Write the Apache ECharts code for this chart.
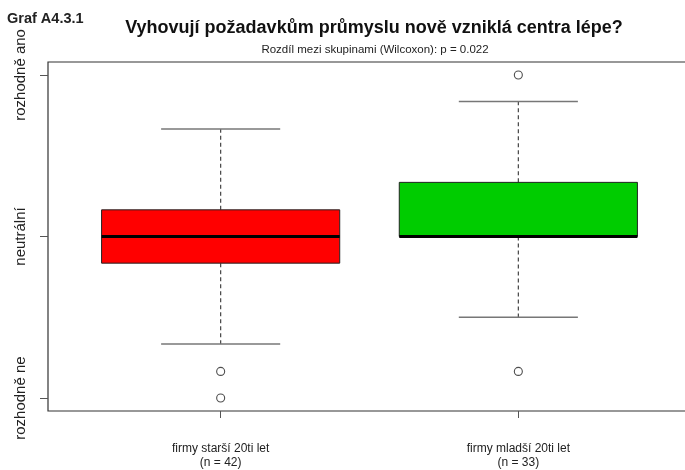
<!DOCTYPE html>
<html>
<head>
<meta charset="utf-8">
<script src="https://cdn.jsdelivr.net/npm/echarts@6/dist/echarts.min.js"></script>
<style>
  html, body { margin: 0; padding: 0; background: #fff; }
  #chart { width: 685px; height: 470px; }
</style>
</head>
<body>
<div id="chart"></div>
<script>
// Groups and their sample sizes
const groups = ['firmy starší 20ti let', 'firmy mladší 20ti let'];
const groupSizes = [42, 33];

// Five-number summaries: [lower whisker, Q1, median, Q3, upper whisker]
const summaries = [
  [1.67, 2.67, 3, 3.33, 4.33],
  [2, 3, 3, 3.67, 4.67]
];

// Outlying answers for each group
const outliers = [
  [1.33, 1],
  [5, 1.33]
];

// Answer scale
const scaleValues = [1, 3, 5];
const scaleLabels = ['rozhodně ne', 'neutrální', 'rozhodně ano'];

const boxColors = ['#ff0000', '#00cc00'];

const boxData = summaries.map((s, i) => [i + 1].concat(s));
const outlierData = [];
outliers.forEach((list, i) => list.forEach(v => outlierData.push([i + 1, v])));

const FONT = '"Liberation Sans", Arial, Helvetica, sans-serif';

function renderBox(params, api) {
  const x = api.value(0);
  const lo = api.value(1), q1 = api.value(2), med = api.value(3), q3 = api.value(4), hi = api.value(5);
  const boxHalf = api.size([0.4, 0])[0];
  const capHalf = api.size([0.2, 0])[0];
  const c = api.coord([x, med]);
  const cx = c[0];
  const yLo = api.coord([x, lo])[1];
  const yQ1 = api.coord([x, q1])[1];
  const yMed = c[1];
  const yQ3 = api.coord([x, q3])[1];
  const yHi = api.coord([x, hi])[1];
  const color = boxColors[params.dataIndex];
  const whisker = { stroke: '#444', lineWidth: 1.2, lineDash: [4, 3] };
  const cap = { stroke: '#777', lineWidth: 1.5 };
  return {
    type: 'group',
    children: [
      { type: 'line', shape: { x1: cx, y1: yQ3, x2: cx, y2: yHi }, style: whisker },
      { type: 'line', shape: { x1: cx, y1: yQ1, x2: cx, y2: yLo }, style: whisker },
      { type: 'line', shape: { x1: cx - capHalf, y1: yHi, x2: cx + capHalf, y2: yHi }, style: cap },
      { type: 'line', shape: { x1: cx - capHalf, y1: yLo, x2: cx + capHalf, y2: yLo }, style: cap },
      { type: 'rect', shape: { x: cx - boxHalf, y: yQ3, width: boxHalf * 2, height: yQ1 - yQ3 },
        style: { fill: color, stroke: '#222', lineWidth: 1 } },
      { type: 'line', shape: { x1: cx - boxHalf, y1: yMed, x2: cx + boxHalf, y2: yMed },
        style: { stroke: '#000', lineWidth: 3 } }
    ]
  };
}

const chart = echarts.init(document.getElementById('chart'), null, { renderer: 'canvas' });
chart.setOption({
  backgroundColor: '#fff',
  animation: false,
  title: [
    { text: 'Graf A4.3.1', left: 7, top: 11, padding: 0,
      textStyle: { fontFamily: FONT, fontSize: 14.5, fontWeight: 'bold', color: '#222' } },
    { text: 'Vyhovují požadavkům průmyslu nově vzniklá centra lépe?', left: 369, top: 14, textAlign: 'center',
      textStyle: { fontFamily: FONT, fontSize: 18, fontWeight: 'bold', color: '#111' } },
    { text: 'Rozdíl mezi skupinami (Wilcoxon): p = 0.022', left: 370, top: 39, textAlign: 'center',
      textStyle: { fontFamily: FONT, fontSize: 11.5, fontWeight: 'normal', color: '#222' } }
  ],
  grid: {
    left: 48, top: 62, width: 643, height: 349,
    outerBoundsMode: 'none',
    show: true, borderColor: '#333', borderWidth: 1.2, backgroundColor: 'transparent'
  },
  xAxis: {
    type: 'value', min: 0.42, max: 2.58,
    splitLine: { show: false },
    axisLine: { show: false },
    axisTick: { show: true, length: 7, customValues: [1, 2], lineStyle: { color: '#555' } },
    axisLabel: {
      customValues: [1, 2], margin: 31, lineHeight: 14,
      fontFamily: FONT, fontSize: 12, color: '#222',
      formatter: v => {
        const i = Math.round(v) - 1;
        return groups[i] + '\n(n = ' + groupSizes[i] + ')';
      }
    }
  },
  yAxis: {
    type: 'value', min: 0.84, max: 5.16,
    splitLine: { show: false },
    axisLine: { show: false },
    axisTick: { show: true, length: 8, customValues: scaleValues, lineStyle: { color: '#555' } },
    axisLabel: {
      customValues: scaleValues, rotate: 90, margin: 20, hideOverlap: false,
      fontFamily: FONT, fontSize: 15, color: '#222',
      formatter: v => scaleLabels[scaleValues.indexOf(Math.round(v))]
    }
  },
  series: [
    {
      type: 'custom',
      renderItem: renderBox,
      encode: { x: 0, y: [1, 2, 3, 4, 5] },
      data: boxData,
      z: 2
    },
    {
      type: 'scatter',
      data: outlierData,
      symbol: 'circle',
      symbolSize: 8,
      itemStyle: { color: '#fff', borderColor: '#222', borderWidth: 1.1 },
      z: 3
    }
  ]
});
</script>
</body>
</html>
